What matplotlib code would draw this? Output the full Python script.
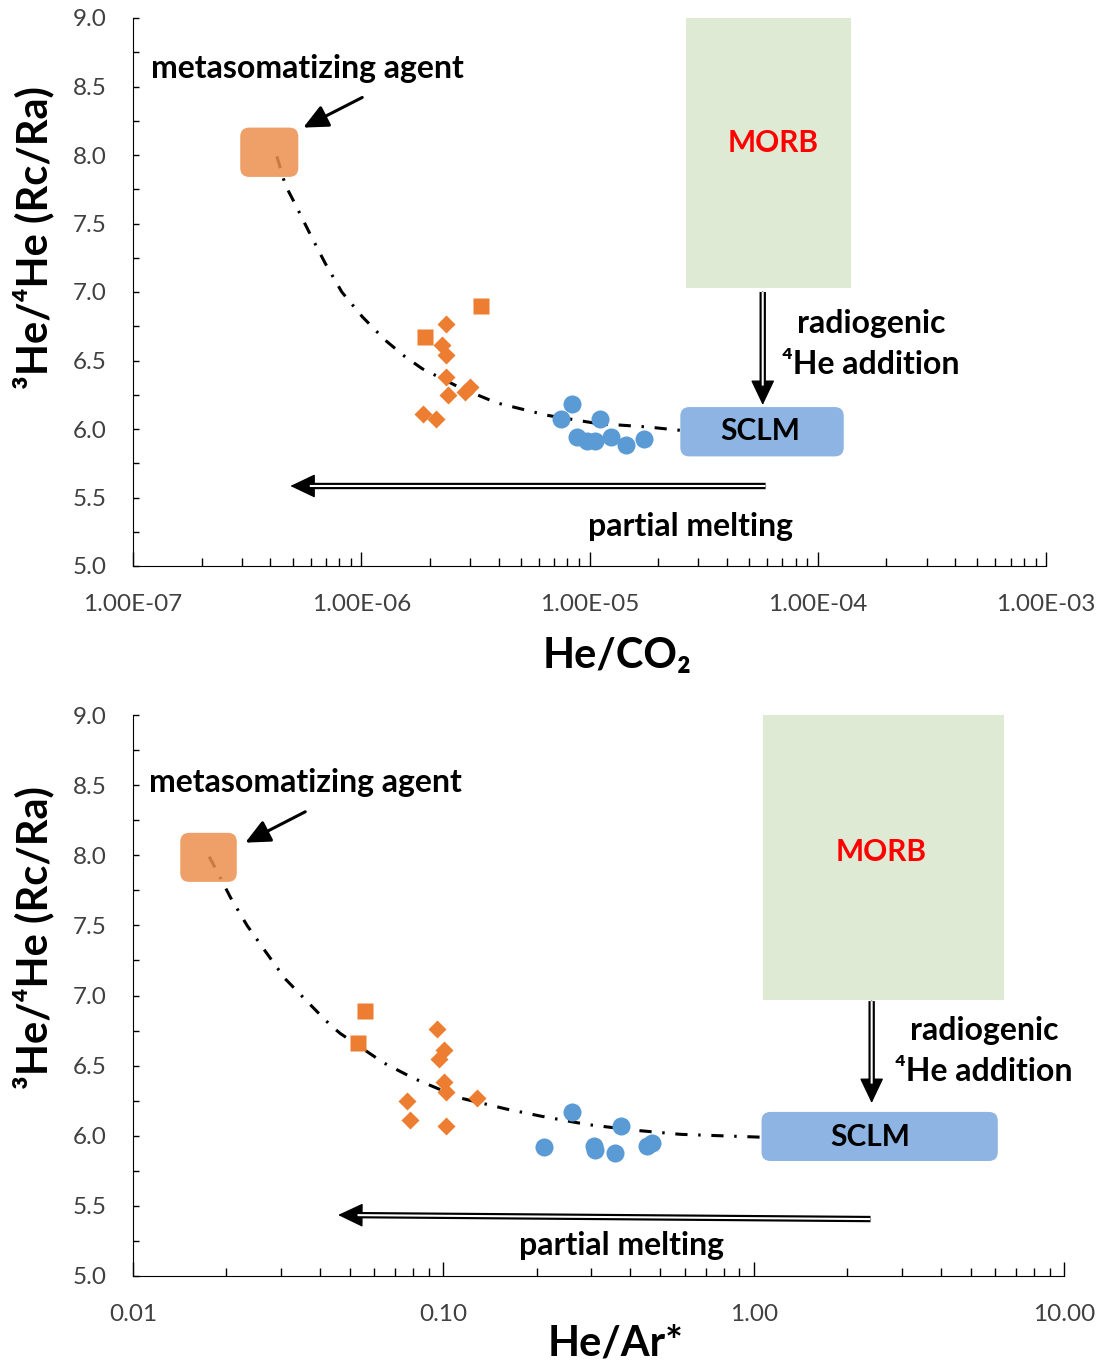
import matplotlib
matplotlib.use('Agg')
from matplotlib import pyplot as plt
from matplotlib.patches import FancyBboxPatch
from matplotlib.ticker import FixedLocator, LogLocator, MultipleLocator, NullFormatter

plt.rcParams['font.family'] = ['Lato', 'DejaVu Sans']

# ---- top panel: He/CO2 ----
co2_sq_x = [1.91e-6, 3.36e-6]
co2_sq_y = [6.67, 6.90]
co2_dia_x = [2.36e-6, 2.26e-6, 2.36e-6, 2.36e-6, 2.40e-6, 2.86e-6, 3.00e-6, 1.87e-6, 2.13e-6]
co2_dia_y = [6.77, 6.61, 6.54, 6.38, 6.25, 6.27, 6.31, 6.11, 6.07]
co2_circ_x = [8.4e-6, 7.47e-6, 1.11e-5, 8.83e-6, 9.76e-6, 1.06e-5, 1.24e-5, 1.44e-5, 1.73e-5]
co2_circ_y = [6.18, 6.07, 6.07, 5.94, 5.91, 5.91, 5.94, 5.88, 5.925]
co2_curve_x = [4.27e-7, 4.65e-7, 5.14e-7, 5.98e-7, 6.95e-7, 8.22e-7, 1.01e-6, 1.27e-6,
               1.55e-6, 1.85e-6, 2.72e-6, 3.93e-6, 6.52e-6, 1.08e-5, 1.79e-5, 2.51e-5]
co2_curve_y = [7.99, 7.78, 7.64, 7.42, 7.21, 7.00, 6.82, 6.65,
               6.53, 6.44, 6.30, 6.19, 6.10, 6.04, 6.015, 5.99]
co2_agent_box = (2.95e-7, 5.3e-7, 7.84, 8.20)
co2_morb_box = (2.64e-5, 1.40e-4, 7.03, 9.00)
co2_sclm_box = (2.50e-5, 1.30e-4, 5.80, 6.16)
co2_ticks = [1e-7, 1e-6, 1e-5, 1e-4, 1e-3]

# ---- bottom panel: He/Ar* ----
ar_sq_x = [0.056, 0.0529]
ar_sq_y = [6.89, 6.66]
ar_dia_x = [0.0954, 0.1007, 0.0966, 0.1003, 0.102, 0.128, 0.0763, 0.0781, 0.102]
ar_dia_y = [6.76, 6.61, 6.545, 6.38, 6.31, 6.27, 6.25, 6.11, 6.07]
ar_circ_x = [0.259, 0.375, 0.211, 0.305, 0.309, 0.357, 0.454, 0.471]
ar_circ_y = [6.17, 6.07, 5.92, 5.93, 5.90, 5.88, 5.93, 5.95]
ar_curve_x = [0.0176, 0.0184, 0.0206, 0.0233, 0.0268, 0.0309, 0.0363, 0.0432, 0.0465,
              0.0642, 0.0801, 0.113, 0.160, 0.206, 0.291, 0.411, 0.582, 1.05]
ar_curve_y = [7.99, 7.91, 7.70, 7.50, 7.31, 7.12, 6.96, 6.79, 6.73,
              6.52, 6.41, 6.27, 6.19, 6.14, 6.08, 6.04, 6.01, 5.99]
ar_agent_box = (0.0142, 0.0216, 7.81, 8.16)
ar_morb_box = (1.07, 6.40, 6.97, 9.00)
ar_sclm_box = (1.06, 6.12, 5.82, 6.17)
ar_ticks = [0.01, 0.1, 1, 10]

ORANGE = '#ED7D31'
BLUE = '#5B9BD5'
GRAY = '#404040'
TXT = 23
TXT_CAPS = 21.5


def add_box(ax, box, color, radius, alpha=1.0, z=1):
    # box given in data units, drawn in axes fraction so rounded corners stay round
    x0, x1, y0, y1 = box
    to_ax = ax.transData + ax.transAxes.inverted()
    (ax0, ay0), (ax1, ay1) = to_ax.transform([(x0, y0), (x1, y1)])
    bb = ax.get_window_extent()
    aspect = bb.width / bb.height
    r = radius / bb.width
    style = 'round,pad=0,rounding_size=%f' % r if radius > 0 else 'square,pad=0'
    p = FancyBboxPatch((ax0, ay0), ax1 - ax0, ay1 - ay0, boxstyle=style,
                       mutation_aspect=aspect, transform=ax.transAxes,
                       facecolor=color, edgecolor='none', alpha=alpha, zorder=z,
                       clip_on=False)
    ax.add_patch(p)


def double_arrow(ax, start, tip):
    head = dict(arrowstyle='-|>,head_length=0.8,head_width=0.38', color='black',
                lw=1, mutation_scale=20, shrinkA=0, shrinkB=0)
    ax.annotate('', xy=tip, xytext=start, arrowprops=head, zorder=5)
    ax.annotate('', xy=tip, xytext=start, zorder=5,
                arrowprops=dict(arrowstyle='-', color='black', lw=4.6, shrinkA=0,
                                shrinkB=14, capstyle='butt'))
    ax.annotate('', xy=tip, xytext=start, zorder=5,
                arrowprops=dict(arrowstyle='-', color='white', lw=1.5, shrinkA=0,
                                shrinkB=14, capstyle='butt'))


def single_arrow(ax, start, tip):
    ax.annotate('', xy=tip, xytext=start, zorder=5,
                arrowprops=dict(arrowstyle='-|>,head_length=0.75,head_width=0.35',
                                color='black', lw=2.2, mutation_scale=20,
                                shrinkA=0, shrinkB=0))


def style_axes(ax, ticks, labels, xlabel, xlab_pos):
    ax.set_xscale('log')
    ax.set_ylim(5.0, 9.0)
    ax.spines['top'].set_visible(False)
    ax.spines['right'].set_visible(False)
    ax.xaxis.set_major_locator(FixedLocator(ticks))
    ax.set_xticklabels(labels)
    ax.xaxis.set_minor_locator(LogLocator(base=10, subs=range(2, 10), numticks=20))
    ax.xaxis.set_minor_formatter(NullFormatter())
    ax.yaxis.set_major_locator(MultipleLocator(0.5))
    ax.yaxis.set_minor_locator(MultipleLocator(0.25))
    ax.yaxis.set_major_formatter(plt.FuncFormatter(lambda v, p: '%.1f' % v))
    ax.tick_params(axis='y', which='both', direction='in', length=4.5, width=1,
                   labelsize=17.5, labelcolor=GRAY, pad=19)
    ax.tick_params(axis='x', which='major', direction='in', length=10, width=1,
                   labelsize=17.5, labelcolor=GRAY, pad=20)
    ax.tick_params(axis='x', which='minor', direction='in', length=6, width=1)
    ax.set_xlabel(xlabel, fontsize=30, fontweight='bold')
    ax.xaxis.set_label_coords(*xlab_pos)
    ax.set_ylabel('³He/⁴He (Rc/Ra)', fontsize=30, fontweight='bold')


fig = plt.figure(figsize=(11.02, 13.69), dpi=100)
ax1 = fig.add_axes([133 / 1102, 1 - 566 / 1369, 913 / 1102, 548 / 1369])
ax2 = fig.add_axes([133 / 1102, 1 - 1276 / 1369, 931 / 1102, 561 / 1369])

# top panel
ax1.set_xlim(1e-7, 1e-3)
style_axes(ax1, co2_ticks, ['%.2E' % t for t in co2_ticks], 'He/CO₂', (0.53, -0.13))
ax1.yaxis.set_label_coords(-0.086, 0.60)
add_box(ax1, co2_morb_box, '#DFEAD5', 0, z=1)
add_box(ax1, co2_sclm_box, '#8DB4E2', 9, z=2)
ax1.plot(co2_curve_x, co2_curve_y, color='black', lw=2.2, dashes=[4, 3.5, 0.8, 3.5], zorder=2)
add_box(ax1, co2_agent_box, '#ED8F4D', 9, alpha=0.85, z=3)
ax1.plot(co2_dia_x, co2_dia_y, 'D', color=ORANGE, ms=9.5, mec='none', zorder=4)
ax1.plot(co2_sq_x, co2_sq_y, 's', color=ORANGE, ms=12, mec='none', zorder=4)
ax1.plot(co2_circ_x, co2_circ_y, 'o', color=BLUE, ms=13, mec='none', zorder=4)
ax1.text(5.8e-7, 8.63, 'metasomatizing agent', fontsize=TXT, fontweight='bold',
         ha='center', va='center')
single_arrow(ax1, (1.01e-6, 8.42), (5.57e-7, 8.20))
ax1.text(6.35e-5, 8.09, 'MORB', fontsize=TXT_CAPS, fontweight='bold', color='#FF0000',
         ha='center', va='center')
ax1.text(5.62e-5, 5.985, 'SCLM', fontsize=TXT_CAPS, fontweight='bold', ha='center',
         va='center', zorder=6)
ax1.text(1.71e-4, 6.77, 'radiogenic', fontsize=TXT, fontweight='bold', ha='center', va='center')
ax1.text(1.71e-4, 6.47, '⁴He addition', fontsize=TXT, fontweight='bold', ha='center', va='center')
ax1.text(2.77e-5, 5.285, 'partial melting', fontsize=TXT, fontweight='bold',
         ha='center', va='center')
double_arrow(ax1, (5.74e-5, 7.0), (5.74e-5, 6.175))
double_arrow(ax1, (5.91e-5, 5.584), (4.89e-7, 5.584))

# bottom panel
ax2.set_xlim(0.01, 10)
style_axes(ax2, ar_ticks, ['%.2f' % t for t in ar_ticks], 'He/Ar*', (0.518, -0.087))
ax2.yaxis.set_label_coords(-0.084, 0.604)
add_box(ax2, ar_morb_box, '#DFEAD5', 0, z=1)
add_box(ax2, ar_sclm_box, '#8DB4E2', 9, z=2)
ax2.plot(ar_curve_x, ar_curve_y, color='black', lw=2.2, dashes=[4, 3.5, 0.8, 3.5], zorder=2)
add_box(ax2, ar_agent_box, '#ED8F4D', 9, alpha=0.85, z=3)
ax2.plot(ar_dia_x, ar_dia_y, 'D', color=ORANGE, ms=9.5, mec='none', zorder=4)
ax2.plot(ar_sq_x, ar_sq_y, 's', color=ORANGE, ms=12, mec='none', zorder=4)
ax2.plot(ar_circ_x, ar_circ_y, 'o', color=BLUE, ms=13, mec='none', zorder=4)
ax2.text(0.0359, 8.52, 'metasomatizing agent', fontsize=TXT, fontweight='bold',
         ha='center', va='center')
single_arrow(ax2, (0.0359, 8.31), (0.0230, 8.09))
ax2.text(2.57, 8.02, 'MORB', fontsize=TXT_CAPS, fontweight='bold', color='#FF0000',
         ha='center', va='center')
ax2.text(2.38, 5.99, 'SCLM', fontsize=TXT_CAPS, fontweight='bold', ha='center',
         va='center', zorder=6)
ax2.text(5.52, 6.75, 'radiogenic', fontsize=TXT, fontweight='bold', ha='center', va='center')
ax2.text(5.52, 6.455, '⁴He addition', fontsize=TXT, fontweight='bold', ha='center', va='center')
ax2.text(0.375, 5.22, 'partial melting', fontsize=TXT, fontweight='bold',
         ha='center', va='center')
double_arrow(ax2, (2.40, 6.96), (2.40, 6.233))
double_arrow(ax2, (2.38, 5.406), (0.0458, 5.435))

fig.savefig('out.png', dpi=100)
